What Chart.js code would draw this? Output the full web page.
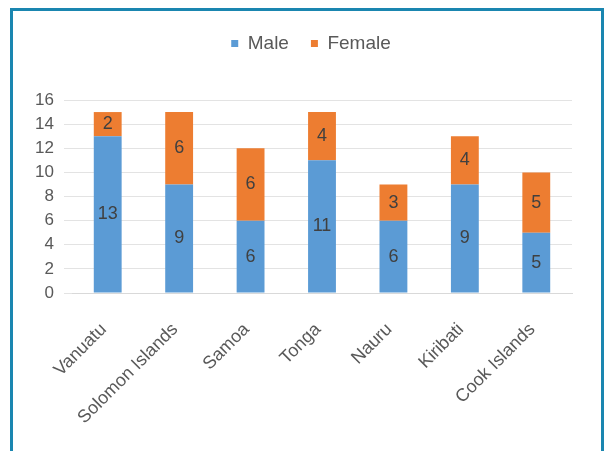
<!DOCTYPE html>
<html>
<head>
<meta charset="utf-8">
<script src="https://cdn.jsdelivr.net/npm/chart.js@4.4.1/dist/chart.umd.min.js"></script>
<style>
    body { margin: 0; background: #fff; }
    #wrap { position: relative; width: 604px; height: 451px; }
    #frame {
        position: absolute; left: 10px; top: 8px; width: 588px; height: 460px;
        border: 3px solid #1a86b0; pointer-events: none;
    }
    canvas { position: absolute; left: 0; top: 0; }
</style>
</head>
<body>
<div id="wrap">
    <canvas id="chart" width="604" height="451"></canvas>
    <div id="frame"></div>
</div>
<script>
const countries = ["Vanuatu", "Solomon Islands", "Samoa", "Tonga", "Nauru", "Kiribati", "Cook Islands"];
const male = [13, 9, 6, 11, 6, 9, 5];
const female = [2, 6, 6, 4, 3, 4, 5];
const yTicks = [0, 2, 4, 6, 8, 10, 12, 14, 16];

const textColor = "#595959";
const fontFamily = "'Liberation Sans', Arial, sans-serif";

// labels in the middle of each bar segment
const barLabels = {
    id: "barLabels",
    afterDatasetsDraw(chart) {
        const ctx = chart.ctx;
        ctx.save();
        ctx.fillStyle = "#404040";
        ctx.font = "18px " + fontFamily;
        ctx.textAlign = "center";
        ctx.textBaseline = "middle";
        chart.data.datasets.forEach((ds, i) => {
            chart.getDatasetMeta(i).data.forEach((bar, j) => {
                const mid = (bar.y + bar.base) / 2;
                ctx.fillText(ds.data[j], bar.x, mid);
            });
        });
        ctx.restore();
    }
};

// extra room under the legend, and nudge it right a little
const legendGap = {
    id: "legendGap",
    beforeInit(chart) {
        const fit = chart.legend.fit;
        chart.legend.fit = function () {
            fit.call(this);
            this.height += 37;
        };
    },
    afterLayout(chart) {
        chart.legend.left += 15;
        chart.legend.right += 15;
    }
};

new Chart(document.getElementById("chart"), {
    type: "bar",
    data: {
        labels: countries,
        datasets: [
            { label: "Male", data: male, backgroundColor: "#5b9bd5" },
            { label: "Female", data: female, backgroundColor: "#ed7d31" }
        ]
    },
    options: {
        responsive: false,
        animation: false,
        layout: { padding: { top: 12, left: 20, right: 32, bottom: 0 } },
        datasets: { bar: { categoryPercentage: 1, barPercentage: 0.39 } },
        plugins: {
            legend: {
                position: "top",
                labels: {
                    boxWidth: 7,
                    boxHeight: 7,
                    padding: 22,
                    color: textColor,
                    font: { size: 19, family: fontFamily }
                }
            },
            tooltip: { enabled: false }
        },
        scales: {
            x: {
                stacked: true,
                grid: { display: false },
                border: { color: "#d9d9d9" },
                afterFit: s => { s.height = 158; },
                ticks: {
                    padding: 18,
                    labelOffset: -4,
                    minRotation: 45,
                    maxRotation: 45,
                    color: textColor,
                    font: { size: 18, family: fontFamily }
                }
            },
            y: {
                stacked: true,
                min: yTicks[0],
                max: yTicks[yTicks.length - 1],
                afterBuildTicks: s => { s.ticks = yTicks.map(v => ({ value: v })); },
                afterFit: s => { s.width = 52; },
                grid: { color: "#e3e3e3" },
                border: { display: false },
                ticks: {
                    padding: 10,
                    color: textColor,
                    font: { size: 17, family: fontFamily }
                }
            }
        }
    },
    plugins: [barLabels, legendGap]
});
</script>
</body>
</html>
